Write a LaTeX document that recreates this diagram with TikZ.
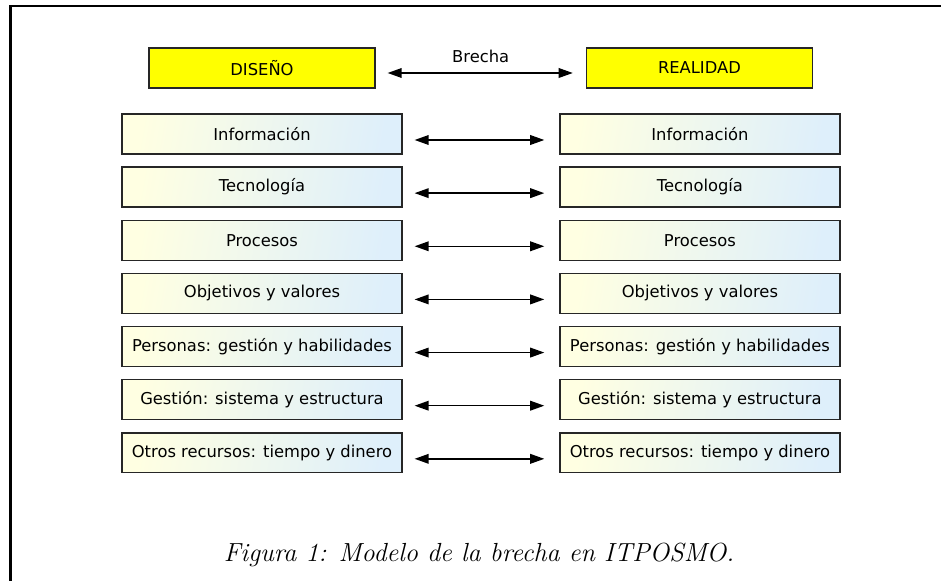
\documentclass[tikz,border=0pt]{standalone}
\usepackage{fontspec}
\newfontfamily\cajafont{DejaVu Sans}
\usetikzlibrary{positioning,arrows.meta}
\definecolor{amarillo}{RGB}{255,255,0}
\definecolor{crema}{RGB}{255,255,226}
\definecolor{celeste}{RGB}{222,239,251}

\begin{document}
\begin{tikzpicture}[x=0.02cm, y=-0.02cm, node distance=10.63mm,
  titulo/.style={rectangle, draw=black!85, line width=0.75pt, fill=amarillo, minimum width=45.2mm, minimum height=8mm, font=\cajafont\fontsize{9.3}{11}\selectfont},
  caja/.style={rectangle, draw=black!85, line width=0.75pt, left color=crema, right color=celeste, shading angle=80, minimum width=56mm, minimum height=8mm, inner sep=1pt, font=\cajafont\fontsize{9.3}{11}\selectfont},
  brecha/.style={{Triangle[length=8pt,width=5.5pt]}-{Triangle[length=8pt,width=5.5pt]}, line width=0.8pt, shorten <=0.24cm, shorten >=0.3cm}]

    \useasboundingbox (0,0) rectangle (941,581);
    \draw[line width=1.4pt] (10.3,581) -- (10.3,6.2) -- (941,6.2);

    \node[titulo] (dis) at (262,68) {DISEÑO};
    \node[titulo, right of=dis, node distance=87.5mm] (rea) {REALIDAD};
    \draw[brecha, shorten >=0.26cm] ([yshift=-0.1cm]dis.east) -- node[above=2pt, font=\cajafont\fontsize{9.3}{11}\selectfont] {Brecha} ([yshift=-0.1cm]rea.west);

    \node[caja] (info1) at (262,134) {Información};
    \node[caja, below of=info1] (tec1) {Tecnología};
    \node[caja, below of=tec1] (proc1) {Procesos};
    \node[caja, below of=proc1] (obj1) {Objetivos y valores};
    \node[caja, below of=obj1] (pers1) {Personas: gestión y habilidades};
    \node[caja, below of=pers1] (gest1) {Gestión: sistema y estructura};
    \node[caja, below of=gest1] (otros1) {Otros recursos: tiempo y dinero};

    \node[caja, right of=info1, node distance=87.6mm] (info2) {Información};
    \node[caja, right of=tec1, node distance=87.6mm] (tec2) {Tecnología};
    \node[caja, right of=proc1, node distance=87.6mm] (proc2) {Procesos};
    \node[caja, right of=obj1, node distance=87.6mm] (obj2) {Objetivos y valores};
    \node[caja, right of=pers1, node distance=87.6mm] (pers2) {Personas: gestión y habilidades};
    \node[caja, right of=gest1, node distance=87.6mm] (gest2) {Gestión: sistema y estructura};
    \node[caja, right of=otros1, node distance=87.6mm] (otros2) {Otros recursos: tiempo y dinero};

    \draw[brecha] ([yshift=-0.12cm]info1.east) -- ([yshift=-0.12cm]info2.west);
    \draw[brecha] ([yshift=-0.12cm]tec1.east) -- ([yshift=-0.12cm]tec2.west);
    \draw[brecha] ([yshift=-0.12cm]proc1.east) -- ([yshift=-0.12cm]proc2.west);
    \draw[brecha] ([yshift=-0.12cm]obj1.east) -- ([yshift=-0.12cm]obj2.west);
    \draw[brecha] ([yshift=-0.12cm]pers1.east) -- ([yshift=-0.12cm]pers2.west);
    \draw[brecha] ([yshift=-0.12cm]gest1.east) -- ([yshift=-0.12cm]gest2.west);
    \draw[brecha] ([yshift=-0.12cm]otros1.east) -- ([yshift=-0.12cm]otros2.west);

    \node[font=\itshape\fontsize{14.9}{17}\selectfont] (pie) at (479,555) {Figura 1: Modelo de la brecha en ITPOSMO.};

\end{tikzpicture}
\end{document}
